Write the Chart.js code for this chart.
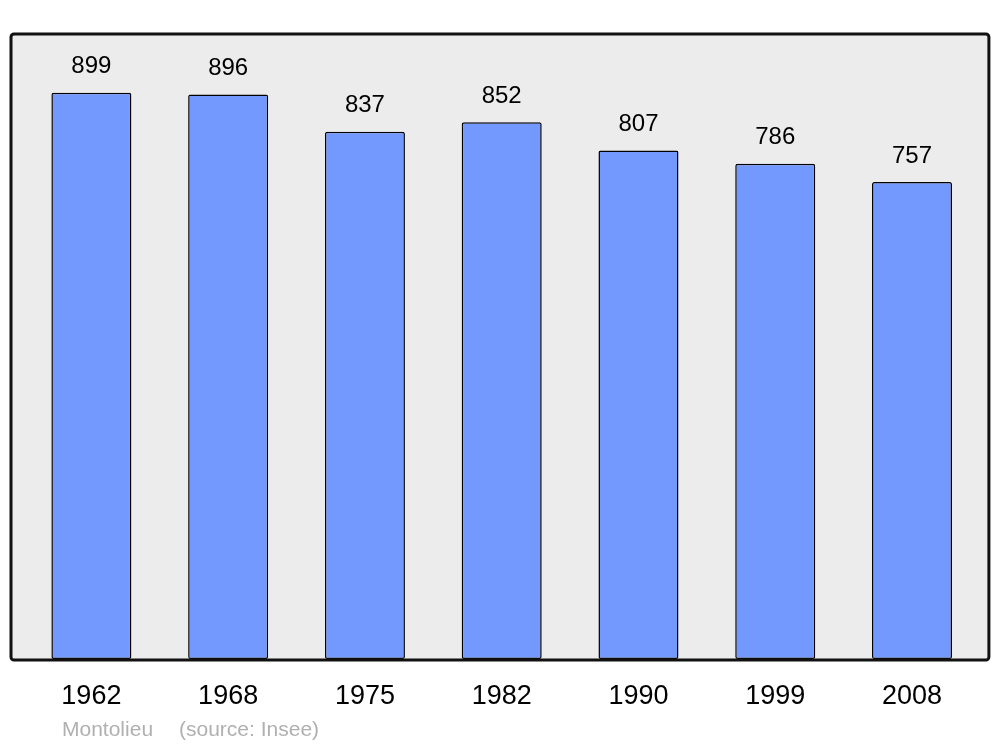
<!DOCTYPE html>
<html>
<head>
<meta charset="utf-8">
<script src="https://cdn.jsdelivr.net/npm/chart.js@4"></script>
<style>
  html, body { margin: 0; padding: 0; background: #fff; }
  #wrap { width: 1000px; height: 747px; }
</style>
</head>
<body>
<div id="wrap"><canvas id="myChart" width="1000" height="747"></canvas></div>
<script>
const years = ['1962', '1968', '1975', '1982', '1990', '1999', '2008'];
const population = [899, 896, 837, 852, 807, 786, 757];
const yMax = 1000;
const placeName = 'Montolieu';
const sourceText = '(source: Insee)';

// grey frame behind the bars + value labels + footnote
const decor = {
    id: 'decor',
    beforeDatasetsDraw(chart) {
        const c = chart.ctx, a = chart.chartArea;
        const x0 = a.left - 12, x1 = a.right + 8.5, y0 = 34, y1 = a.bottom + 1;
        c.save();
        c.beginPath();
        c.roundRect(x0, y0, x1 - x0, y1 - y0, 3);
        c.fillStyle = '#ececec';
        c.fill();
        c.restore();
    },
    afterDatasetsDraw(chart) {
        const c = chart.ctx, a = chart.chartArea;
        const x0 = a.left - 12, x1 = a.right + 8.5, y0 = 34, y1 = a.bottom + 1;
        c.save();
        c.beginPath();
        c.roundRect(x0, y0, x1 - x0, y1 - y0, 3);
        c.lineWidth = 3;
        c.strokeStyle = '#111';
        c.stroke();

        c.font = '24px "Liberation Sans", Arial, sans-serif';
        c.fillStyle = '#000';
        c.textAlign = 'center';
        c.textBaseline = 'middle';
        chart.getDatasetMeta(0).data.forEach((bar, i) => {
            c.fillText(population[i], bar.x, bar.y - 26);
        });

        c.font = '21px "Liberation Sans", Arial, sans-serif';
        c.fillStyle = '#b0b0b0';
        c.textAlign = 'left';
        c.fillText(placeName, 62, 730);
        c.fillText(sourceText, 179, 730);
        c.restore();
    }
};

let ctx = document.getElementById('myChart').getContext('2d');
let myChart = new Chart(ctx, {
    type: 'bar',
    data: {
        labels: years,
        datasets: [{
            data: population,
            backgroundColor: '#7399ff',
            borderColor: '#000',
            borderWidth: 1.5,
            borderRadius: 2,
            borderSkipped: false,
            categoryPercentage: 1,
            barPercentage: 0.585
        }]
    },
    options: {
        responsive: false,
        animation: false,
        layout: { padding: { left: 23, right: 19.6, top: 29, bottom: 21.6 } },
        plugins: { legend: { display: false }, tooltip: { enabled: false } },
        scales: {
            x: {
                grid: { display: false },
                border: { display: false },
                ticks: {
                    padding: 13,
                    color: '#000',
                    font: { size: 27, family: '"Liberation Sans", Arial, sans-serif' }
                }
            },
            y: { display: false, min: 0, max: yMax }
        }
    },
    plugins: [decor]
});
</script>
</body>
</html>
